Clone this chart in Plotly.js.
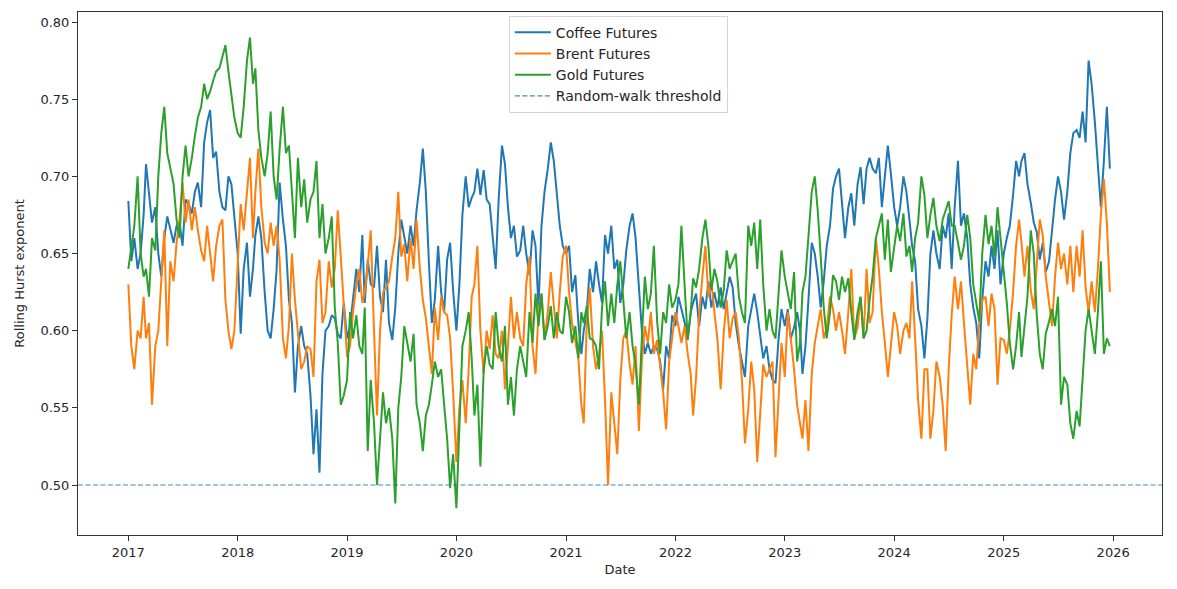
<!DOCTYPE html>
<html>
<head>
<meta charset="utf-8">
<script src="https://cdn.plot.ly/plotly-3.0.1.min.js"></script>
<style>
  html, body { margin: 0; padding: 0; background: #ffffff; }
  #chart { width: 1177px; height: 589px; }
</style>
</head>
<body>
<div id="chart"></div>
<script>
// Sampling grid: three observations per month (1st, 11th, 21st), 2017-2025
const years = [2017, 2018, 2019, 2020, 2021, 2022, 2023, 2024, 2025];
const sampleDays = [1, 11, 21];

// Rolling Hurst exponent, one row per year (36 samples each)
const coffee = [
  0.684,0.645,0.660,0.640,0.650,0.675,0.708,0.690,0.670,0.680,0.650,0.635,0.660,0.674,0.665,0.657,0.668,0.670,0.655,0.685,0.682,0.676,0.690,0.696,0.680,0.722,0.735,0.743,0.712,0.716,0.690,0.680,0.678,0.700,0.695,0.672,
  0.650,0.598,0.640,0.657,0.622,0.640,0.662,0.674,0.660,0.625,0.600,0.595,0.614,0.640,0.696,0.672,0.655,0.620,0.605,0.560,0.590,0.603,0.590,0.585,0.558,0.520,0.549,0.508,0.572,0.600,0.603,0.610,0.608,0.598,0.595,0.618,
  0.595,0.603,0.622,0.640,0.625,0.662,0.618,0.646,0.630,0.628,0.655,0.622,0.612,0.646,0.605,0.594,0.615,0.650,0.672,0.660,0.650,0.668,0.655,0.678,0.696,0.718,0.690,0.645,0.605,0.620,0.655,0.625,0.612,0.646,0.657,0.626,
  0.600,0.630,0.675,0.700,0.680,0.686,0.690,0.705,0.688,0.704,0.685,0.682,0.660,0.640,0.685,0.720,0.708,0.680,0.660,0.668,0.648,0.652,0.668,0.650,0.636,0.665,0.655,0.615,0.668,0.690,0.705,0.722,0.710,0.690,0.668,0.655,
  0.650,0.655,0.625,0.636,0.605,0.585,0.600,0.612,0.640,0.625,0.645,0.630,0.618,0.662,0.650,0.668,0.640,0.646,0.618,0.630,0.652,0.668,0.676,0.660,0.625,0.600,0.585,0.592,0.585,0.590,0.588,0.580,0.562,0.590,0.582,0.610,
  0.603,0.622,0.614,0.605,0.594,0.612,0.618,0.624,0.603,0.622,0.614,0.632,0.615,0.625,0.615,0.628,0.614,0.626,0.635,0.628,0.605,0.590,0.580,0.570,0.603,0.614,0.624,0.612,0.595,0.582,0.590,0.575,0.568,0.566,0.594,0.614,
  0.603,0.614,0.595,0.602,0.612,0.600,0.572,0.590,0.620,0.657,0.650,0.635,0.615,0.632,0.655,0.668,0.692,0.700,0.705,0.685,0.660,0.680,0.689,0.668,0.695,0.706,0.682,0.705,0.712,0.705,0.702,0.712,0.680,0.700,0.720,0.702,
  0.680,0.668,0.680,0.700,0.690,0.672,0.655,0.645,0.614,0.603,0.582,0.608,0.650,0.665,0.650,0.640,0.668,0.660,0.676,0.640,0.680,0.710,0.668,0.676,0.660,0.630,0.615,0.605,0.582,0.620,0.645,0.635,0.655,0.640,0.665,0.630,
  0.650,0.660,0.668,0.688,0.710,0.700,0.710,0.715,0.695,0.683,0.670,0.664,0.646,0.657,0.638,0.645,0.665,0.685,0.700,0.690,0.672,0.690,0.715,0.728,0.730,0.725,0.742,0.722,0.775,0.760,0.735,0.705,0.680,0.710,0.745,0.705
];

const brent = [
  0.630,0.590,0.575,0.600,0.595,0.622,0.595,0.605,0.552,0.590,0.600,0.632,0.665,0.590,0.645,0.632,0.657,0.672,0.696,0.670,0.685,0.665,0.680,0.665,0.652,0.645,0.668,0.650,0.632,0.655,0.668,0.672,0.620,0.600,0.588,0.600,
  0.640,0.682,0.665,0.690,0.712,0.660,0.690,0.718,0.680,0.657,0.650,0.670,0.655,0.668,0.646,0.595,0.582,0.603,0.650,0.620,0.600,0.575,0.580,0.590,0.588,0.570,0.632,0.646,0.605,0.612,0.645,0.628,0.640,0.678,0.648,0.618,
  0.583,0.590,0.612,0.630,0.640,0.618,0.625,0.642,0.665,0.600,0.545,0.600,0.625,0.628,0.632,0.648,0.660,0.690,0.648,0.656,0.632,0.660,0.640,0.672,0.640,0.620,0.608,0.590,0.572,0.615,0.594,0.622,0.612,0.610,0.595,0.560,
  0.515,0.550,0.568,0.540,0.575,0.622,0.630,0.655,0.600,0.572,0.600,0.588,0.610,0.585,0.582,0.600,0.562,0.590,0.622,0.595,0.612,0.595,0.590,0.630,0.648,0.590,0.572,0.612,0.624,0.594,0.612,0.638,0.618,0.595,0.625,0.648,
  0.655,0.625,0.605,0.592,0.582,0.552,0.540,0.605,0.628,0.590,0.575,0.585,0.600,0.555,0.500,0.560,0.540,0.520,0.568,0.595,0.600,0.578,0.565,0.590,0.535,0.580,0.603,0.592,0.612,0.585,0.594,0.575,0.560,0.536,0.580,0.595,
  0.612,0.603,0.592,0.603,0.585,0.572,0.545,0.570,0.610,0.635,0.655,0.622,0.632,0.612,0.595,0.562,0.598,0.620,0.595,0.608,0.612,0.595,0.568,0.527,0.549,0.580,0.562,0.515,0.545,0.578,0.570,0.575,0.580,0.518,0.560,0.592,
  0.570,0.612,0.595,0.575,0.552,0.540,0.530,0.555,0.522,0.572,0.592,0.603,0.614,0.595,0.602,0.622,0.614,0.600,0.612,0.600,0.585,0.612,0.640,0.595,0.602,0.622,0.595,0.640,0.605,0.612,0.660,0.640,0.612,0.592,0.570,0.590,
  0.612,0.603,0.585,0.600,0.605,0.595,0.632,0.595,0.555,0.530,0.575,0.575,0.530,0.548,0.580,0.570,0.552,0.522,0.575,0.610,0.635,0.614,0.632,0.605,0.575,0.552,0.585,0.575,0.605,0.620,0.622,0.603,0.624,0.614,0.565,0.595,
  0.594,0.585,0.600,0.625,0.655,0.672,0.657,0.635,0.655,0.626,0.614,0.640,0.672,0.662,0.635,0.618,0.603,0.635,0.657,0.640,0.650,0.630,0.655,0.625,0.655,0.635,0.665,0.628,0.612,0.632,0.612,0.640,0.675,0.698,0.670,0.625
];

const gold = [
  0.640,0.655,0.668,0.700,0.650,0.635,0.640,0.622,0.660,0.652,0.700,0.728,0.745,0.715,0.706,0.695,0.672,0.660,0.700,0.720,0.700,0.712,0.726,0.738,0.745,0.760,0.750,0.755,0.762,0.768,0.770,0.778,0.785,0.768,0.752,0.738,
  0.728,0.725,0.745,0.775,0.790,0.760,0.770,0.730,0.712,0.700,0.715,0.742,0.700,0.685,0.718,0.745,0.715,0.720,0.690,0.660,0.712,0.680,0.698,0.670,0.685,0.690,0.710,0.660,0.682,0.650,0.660,0.674,0.615,0.592,0.552,0.558,
  0.568,0.612,0.595,0.610,0.590,0.585,0.615,0.522,0.568,0.540,0.500,0.530,0.560,0.540,0.550,0.530,0.488,0.550,0.570,0.603,0.592,0.580,0.598,0.552,0.540,0.522,0.545,0.552,0.565,0.580,0.570,0.575,0.552,0.530,0.498,0.520,
  0.485,0.545,0.590,0.600,0.612,0.582,0.545,0.565,0.512,0.575,0.590,0.578,0.575,0.612,0.590,0.580,0.603,0.552,0.570,0.545,0.575,0.590,0.580,0.570,0.612,0.592,0.624,0.603,0.624,0.594,0.603,0.616,0.595,0.612,0.600,0.598,
  0.622,0.612,0.592,0.603,0.582,0.612,0.605,0.616,0.595,0.594,0.590,0.575,0.615,0.632,0.603,0.624,0.605,0.630,0.645,0.618,0.595,0.612,0.590,0.578,0.552,0.595,0.635,0.614,0.624,0.655,0.606,0.585,0.612,0.605,0.630,0.615,
  0.620,0.630,0.668,0.628,0.595,0.612,0.634,0.628,0.640,0.660,0.672,0.655,0.626,0.640,0.632,0.615,0.626,0.652,0.640,0.645,0.650,0.622,0.612,0.605,0.668,0.655,0.670,0.640,0.672,0.630,0.600,0.614,0.600,0.595,0.626,0.652,
  0.635,0.625,0.614,0.638,0.580,0.592,0.625,0.635,0.660,0.690,0.700,0.678,0.648,0.615,0.595,0.612,0.636,0.632,0.620,0.635,0.625,0.634,0.612,0.594,0.612,0.622,0.595,0.600,0.620,0.635,0.660,0.668,0.676,0.646,0.672,0.638,
  0.655,0.668,0.658,0.676,0.648,0.655,0.638,0.660,0.670,0.700,0.688,0.660,0.675,0.686,0.668,0.658,0.672,0.678,0.684,0.668,0.668,0.657,0.646,0.655,0.675,0.660,0.630,0.618,0.606,0.650,0.675,0.656,0.668,0.648,0.680,0.660,
  0.640,0.618,0.592,0.575,0.590,0.612,0.583,0.603,0.622,0.665,0.650,0.610,0.585,0.575,0.598,0.606,0.614,0.603,0.622,0.552,0.570,0.565,0.540,0.530,0.548,0.538,0.570,0.600,0.614,0.600,0.585,0.612,0.645,0.585,0.595,0.590
];

const seriesNames = ['Coffee Futures', 'Brent Futures', 'Gold Futures'];
const thresholdName = 'Random-walk threshold';
const threshold = 0.5;

const xRange = ['2016-07-17', '2026-06-13'];
const yRange = [0.4676, 0.8065];
const yTicks = [0.50, 0.55, 0.60, 0.65, 0.70, 0.75, 0.80];
const xTickLabels = ['2017', '2018', '2019', '2020', '2021', '2022', '2023', '2024', '2025', '2026'];

const pad = n => String(n).padStart(2, '0');
const dates = [];
years.forEach(y => {
  for (let m = 1; m <= 12; m++) {
    sampleDays.forEach(d => dates.push(`${y}-${pad(m)}-${pad(d)}`));
  }
});

const colors = ['#1f77b4', '#ff7f0e', '#2ca02c'];
const values = [coffee, brent, gold];

const traces = values.map((v, k) => ({
  type: 'scatter',
  mode: 'lines',
  x: dates,
  y: v,
  name: seriesNames[k],
  line: { color: colors[k], width: 2 }
}));

traces.push({
  type: 'scatter',
  mode: 'lines',
  x: xRange,
  y: [threshold, threshold],
  name: thresholdName,
  line: { color: 'rgba(31,119,180,0.85)', width: 1.1, dash: '5px,2.5px' },
  hoverinfo: 'skip'
});

const axisStyle = {
  showgrid: false,
  zeroline: false,
  showline: true,
  mirror: true,
  linecolor: '#333333',
  linewidth: 1,
  ticks: 'outside',
  ticklen: 5,
  tickwidth: 1,
  tickcolor: '#333333',
  tickfont: { family: 'DejaVu Sans', size: 13, color: '#262626' }
};

const layout = {
  width: 1177,
  height: 589,
  margin: { l: 78, r: 15, t: 12, b: 54 },
  paper_bgcolor: '#ffffff',
  plot_bgcolor: '#ffffff',
  font: { family: 'DejaVu Sans', size: 13, color: '#262626' },
  showlegend: true,
  xaxis: Object.assign({}, axisStyle, {
    type: 'date',
    range: xRange,
    tickvals: xTickLabels.map(y => `${y}-01-01`),
    ticktext: xTickLabels,
    title: { text: 'Date', font: { family: 'DejaVu Sans', size: 13, color: '#262626' }, standoff: 6 }
  }),
  yaxis: Object.assign({}, axisStyle, {
    range: yRange,
    tickvals: yTicks,
    tickformat: '.2f',
    title: { text: 'Rolling Hurst exponent', font: { family: 'DejaVu Sans', size: 13, color: '#262626' }, standoff: 12 }
  }),
  legend: {
    x: 0.4985,
    xanchor: 'center',
    y: 0.993,
    yanchor: 'top',
    bgcolor: 'rgba(255,255,255,0.85)',
    bordercolor: '#d5d5d5',
    borderwidth: 1,
    itemwidth: 36,
    font: { family: 'DejaVu Sans', size: 14, color: '#262626' },
    tracegroupgap: 0
  }
};

Plotly.newPlot('chart', traces, layout, { displayModeBar: false, staticPlot: true });
</script>
</body>
</html>
